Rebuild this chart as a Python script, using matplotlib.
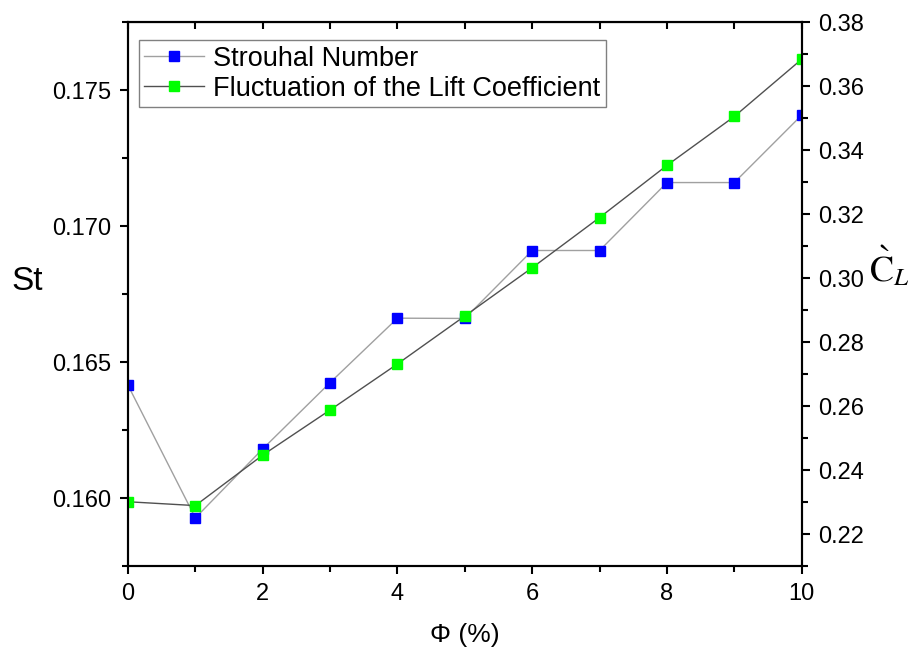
import numpy as np
import matplotlib.pyplot as plt
from matplotlib.ticker import MultipleLocator

plt.rcParams['font.family'] = ['Liberation Sans', 'DejaVu Sans']
plt.rcParams['mathtext.fontset'] = 'stix'

# data
phi = [0, 1, 2, 3, 4, 5, 6, 7, 8, 9, 10]
st = [0.16415, 0.15927, 0.16181, 0.16425, 0.16662, 0.16661,
      0.16911, 0.16911, 0.17161, 0.17161, 0.17409]
cl = [0.2301, 0.2289, 0.2447, 0.2588, 0.2732, 0.2882,
      0.3033, 0.3190, 0.3353, 0.3506, 0.3685]

fig = plt.figure(figsize=(9.11, 6.5), dpi=100)
ax = fig.add_axes([0.1405, 0.1292, 0.7395, 0.8362])
ax2 = ax.twinx()

l1, = ax.plot(phi, st, color='#a0a0a0', lw=1, marker='s', ms=7.5,
              mfc='#0000ff', mec='#0000ff', label='Strouhal Number')
l2, = ax2.plot(phi, cl, color='#505050', lw=1, marker='s', ms=7.5,
               mfc='#00ff00', mec='#00ff00',
               label='Fluctuation of the Lift Coefficient')

ax.set_xlim(0, 10)
ax.set_ylim(0.1575, 0.1775)
ax2.set_ylim(0.21, 0.38)

ax.xaxis.set_major_locator(MultipleLocator(2))
ax.xaxis.set_minor_locator(MultipleLocator(1))
ax.yaxis.set_major_locator(MultipleLocator(0.005))
ax.yaxis.set_minor_locator(MultipleLocator(0.0025))
ax.yaxis.set_major_formatter(plt.FormatStrFormatter('%.3f'))
ax2.yaxis.set_major_locator(MultipleLocator(0.02))
ax2.yaxis.set_minor_locator(MultipleLocator(0.01))
ax2.yaxis.set_major_formatter(plt.FormatStrFormatter('%.2f'))

for a in (ax, ax2):
    for s in a.spines.values():
        s.set_linewidth(1.5)
    a.tick_params(which='major', direction='out', length=6, width=1.5,
                  labelsize=17, pad=6)
    a.tick_params(which='minor', direction='out', length=4, width=1.5)

# top ticks pointing inward
top = ax.secondary_xaxis('top')
top.xaxis.set_major_locator(MultipleLocator(1))
top.tick_params(direction='in', length=5, width=1.5, labeltop=False)

ax.set_xlabel('Φ (%)', fontsize=19)
ax.xaxis.set_label_coords(0.5, -0.127)
ax.xaxis.label.set_va('center')
ax.set_ylabel('St', fontsize=24, rotation=0, va='center', ha='center')
ax.yaxis.set_label_coords(-0.15, 0.524)
ax2.set_ylabel(r'$\grave{\mathrm{C}}_L$', fontsize=26, rotation=0,
               va='center', ha='center')
ax2.yaxis.set_label_coords(1.13, 0.55)

leg = ax2.legend(handles=[l1, l2], loc='upper left',
                 bbox_to_anchor=(0.016, 0.967), borderaxespad=0,
                 fontsize=19.5, fancybox=False, framealpha=1,
                 edgecolor='#808080', handlelength=2.2, handletextpad=0.35,
                 borderpad=0.2, labelspacing=0.15)
leg.get_frame().set_linewidth(1)

fig.savefig('out.png', dpi=100)
